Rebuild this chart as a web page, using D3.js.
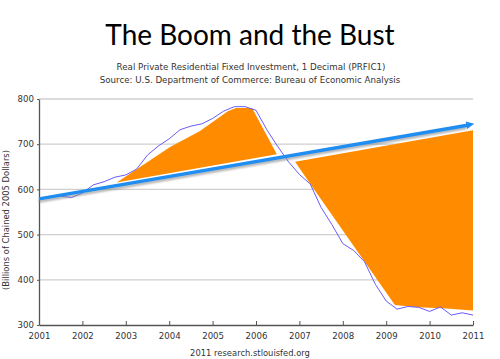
<!DOCTYPE html>
<html><head><meta charset="utf-8">
<script src="https://cdn.jsdelivr.net/npm/d3@7"></script>
<style>body{margin:0;background:#fff}svg{display:block}</style>
</head><body>
<script>
// ---- data ----
const dates = [2001,2001.25,2001.5,2001.75,2002,2002.25,2002.5,2002.75,2003,2003.25,2003.5,2003.75,
  2004,2004.25,2004.5,2004.75,2005,2005.25,2005.5,2005.75,2006,2006.25,2006.5,2006.75,
  2007,2007.25,2007.5,2007.75,2008,2008.25,2008.5,2008.75,2009,2009.25,2009.5,2009.75,
  2010,2010.25,2010.5,2010.75,2011];
const values = [578,583,585,582, 592,610,617,627, 632,645,676,696,
  712,732,740,745, 757,773,783,783, 775,732,695,661,
  633,612,560,522, 480,465,440,390, 353,335,341,339,
  330,340,322,327, 322];
const yTicks = [300,400,500,600,700,800];
const xTicks = [2001,2002,2003,2004,2005,2006,2007,2008,2009,2010,2011];
const boomShape = [[2002.79,615],[2004.02,694],[2004.71,729],[2005.35,773],[2005.54,780],[2005.91,780],[2006.48,678]];
const bustShape = [[2006.9,661],[2011.0,731],[2011.0,332],[2010.3,337],[2009.7,339],[2009.2,344],[2007.2,619]];
const trendArrow = [[2001,579],[2011.03,745]];
const title = "The Boom and the Bust";
const subtitle1 = "Real Private Residential Fixed Investment, 1 Decimal (PRFIC1)";
const subtitle2 = "Source: U.S. Department of Commerce: Bureau of Economic Analysis";
const yLabel = "(Billions of Chained 2005 Dollars)";
const footer = "2011 research.stlouisfed.org";

const W = 500, H = 359;
const svg = d3.select("body").append("svg").attr("width", W).attr("height", H);
const x = d3.scaleLinear().domain([2001, 2011]).range([39, 473]);
const y = d3.scaleLinear().domain([300, 800]).range([325, 99]);

const defs = svg.append("defs");
defs.append("filter").attr("id","blur").append("feGaussianBlur").attr("stdDeviation",1.2);

svg.append("text").attr("x",250).attr("y",45).attr("text-anchor","middle")
  .style("font-family","Lato, 'Open Sans', sans-serif").style("font-size","28px").style("fill","#000")
  .text(title);
svg.append("text").attr("x",251).attr("y",70).attr("text-anchor","middle")
  .style("font-family","'DejaVu Sans', sans-serif").style("font-size","8.7px").style("fill","#333")
  .text(subtitle1);
svg.append("text").attr("x",250).attr("y",83).attr("text-anchor","middle")
  .style("font-family","'DejaVu Sans', sans-serif").style("font-size","8.7px").style("fill","#333")
  .text(subtitle2);

// gridlines
svg.append("g").selectAll("line").data(yTicks.filter(d => d > 300)).join("line")
  .attr("x1", x(2001)).attr("x2", x(2011)).attr("y1", d => y(d)).attr("y2", d => y(d))
  .attr("stroke", "#cfcfcf").attr("stroke-width", 1.3);

// orange shapes
const poly = pts => pts.map(p => [x(p[0]), y(p[1])].join(",")).join(" ");
svg.append("polygon").attr("points", poly(boomShape)).attr("fill", "#ff8c00");
svg.append("polygon").attr("points", poly(bustShape)).attr("fill", "#ff8c00");

// data line
svg.append("path").datum(dates.map((d,i) => [d, values[i]]))
  .attr("d", d3.line().x(d => x(d[0])).y(d => y(d[1])))
  .attr("fill","none").attr("stroke","#6a5cf8").attr("stroke-width",1);

// axes
const gx = svg.append("g").attr("transform", `translate(0,${y(300)})`)
  .call(d3.axisBottom(x).tickValues(xTicks).tickFormat(d3.format("d")).tickSizeInner(-4).tickSizeOuter(0).tickPadding(8));
const gy = svg.append("g").attr("transform", `translate(${x(2001)},0)`)
  .call(d3.axisLeft(y).tickValues(yTicks).tickSizeInner(2).tickSizeOuter(0).tickPadding(3));
[gx, gy].forEach(g => {
  g.select(".domain").attr("stroke","#555").attr("stroke-width",1.3);
  g.selectAll(".tick line").attr("stroke","#555");
  g.selectAll("text").style("font-family","'DejaVu Sans', sans-serif").style("font-size","8.6px").style("fill","#333");
});

// arrow
const ax0 = x(trendArrow[0][0]), ay0 = y(trendArrow[0][1]);
const ax1 = x(trendArrow[1][0]), ay1 = y(trendArrow[1][1]);
const ang = Math.atan2(ay1 - ay0, ax1 - ax0);
const headLen = 8, headW = 3.8;
const bx = ax1 - headLen*Math.cos(ang), by = ay1 - headLen*Math.sin(ang);
svg.append("line").attr("x1", ax0).attr("y1", ay0 + 2.5).attr("x2", bx).attr("y2", by + 2.5)
  .attr("stroke","#8a8a8a").attr("stroke-width",2.5).attr("filter","url(#blur)").attr("opacity",0.8);
svg.append("line").attr("x1", ax0).attr("y1", ay0).attr("x2", bx+1).attr("y2", by)
  .attr("stroke","#1f8ef0").attr("stroke-width",3.5);
const nx = -Math.sin(ang), ny = Math.cos(ang);
svg.append("polygon").attr("points", [[ax1,ay1],[bx+nx*headW,by+ny*headW],[bx-nx*headW,by-ny*headW]].map(p=>p.join(",")).join(" "))
  .attr("fill","#1f8ef0");

// labels
svg.append("text").attr("transform", `translate(9,${(y(300)+y(800))/2 + 8}) rotate(-90)`).attr("text-anchor","middle")
  .style("font-family","'DejaVu Sans', sans-serif").style("font-size","8.4px").style("fill","#333")
  .text(yLabel);
svg.append("text").attr("x",250).attr("y",356).attr("text-anchor","middle")
  .style("font-family","'DejaVu Sans', sans-serif").style("font-size","8.4px").style("fill","#333")
  .text(footer);
</script>
</body></html>
